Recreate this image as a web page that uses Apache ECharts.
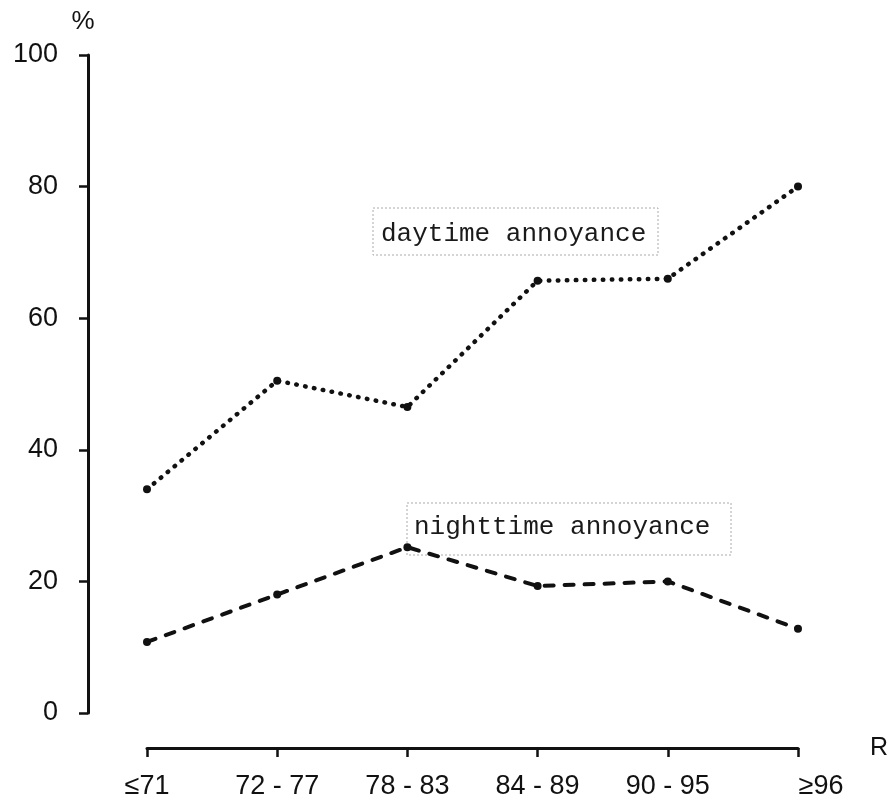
<!DOCTYPE html>
<html>
<head>
<meta charset="utf-8">
<script src="https://cdn.jsdelivr.net/npm/echarts@6/dist/echarts.min.js"></script>
<style>html,body{margin:0;padding:0;background:#fff}#c{width:892px;height:811px}</style>
</head>
<body>
<div id="c"></div>
<script>
const categories = ['≤71', '72 - 77', '78 - 83', '84 - 89', '90 - 95', '≥96'];
const daytime = [34, 50.5, 46.5, 65.7, 66, 80];
const nighttime = [10.8, 18, 25.2, 19.3, 20, 12.8];
const yTicks = [0, 20, 40, 60, 80, 100];
const dayLabel = 'daytime annoyance';
const nightLabel = 'nighttime annoyance';

const chart = echarts.init(document.getElementById('c'));
const sans = 'Liberation Sans';
const mono = 'Liberation Mono';
chart.setOption({
  backgroundColor: '#fff',
  animation: false,
  grid: { left: 147, right: 94, top: 55, bottom: 98 },
  xAxis: {
    type: 'category',
    data: categories,
    boundaryGap: false,
    offset: 35,
    name: 'R',
    nameLocation: 'end',
    nameGap: 72,
    nameTextStyle: { fontFamily: sans, fontSize: 25, color: '#111', verticalAlign: 'middle' },
    axisLine: { onZero: false, lineStyle: { color: '#111', width: 3 } },
    axisTick: { length: 9, lineStyle: { color: '#111', width: 2.5 } },
    axisLabel: {
      margin: 25, fontFamily: sans, fontSize: 27, color: '#111',
      formatter: v => v === '≥96' ? '{r|' + v + '}' : v,
      rich: { r: { fontFamily: sans, fontSize: 27, color: '#111', padding: [0, 0, 0, 46] } }
    },
    splitLine: { show: false }
  },
  yAxis: {
    type: 'value',
    min: 0, max: 100, interval: 20,
    offset: 59,
    name: '%',
    nameLocation: 'end',
    nameGap: 20,
    nameTextStyle: { fontFamily: sans, fontSize: 26, color: '#111', padding: [0, 10, 0, 0] },
    axisLine: { show: true, lineStyle: { color: '#111', width: 3 } },
    axisTick: { show: true, length: 9, lineStyle: { color: '#111', width: 2.5 } },
    axisLabel: { margin: 30, fontFamily: sans, fontSize: 27, color: '#111',
      formatter: v => yTicks.includes(v) ? String(v) : '' },
    splitLine: { show: false }
  },
  series: [
    {
      name: dayLabel, type: 'line', data: daytime,
      symbol: 'circle', symbolSize: 8,
      itemStyle: { color: '#111' },
      lineStyle: { color: '#111', width: 4.5, type: [0.5, 8.5], cap: 'round' }
    },
    {
      name: nightLabel, type: 'line', data: nighttime,
      symbol: 'circle', symbolSize: 8,
      itemStyle: { color: '#111' },
      lineStyle: { color: '#111', width: 4, type: [9, 11], cap: 'round' }
    }
  ],
  graphic: [
    { type: 'rect', shape: { x: 373, y: 208, width: 285, height: 47 },
      style: { fill: 'none', stroke: '#aaa', lineWidth: 1, lineDash: [2, 2] } },
    { type: 'text', x: 381, y: 234,
      style: { text: dayLabel, font: '26px "' + mono + '"', fill: '#1a1a1a', verticalAlign: 'middle' } },
    { type: 'rect', shape: { x: 407, y: 503, width: 324, height: 52 },
      style: { fill: 'none', stroke: '#aaa', lineWidth: 1, lineDash: [2, 2] } },
    { type: 'text', x: 414, y: 527,
      style: { text: nightLabel, font: '26px "' + mono + '"', fill: '#1a1a1a', verticalAlign: 'middle' } }
  ]
});
</script>
</body>
</html>
